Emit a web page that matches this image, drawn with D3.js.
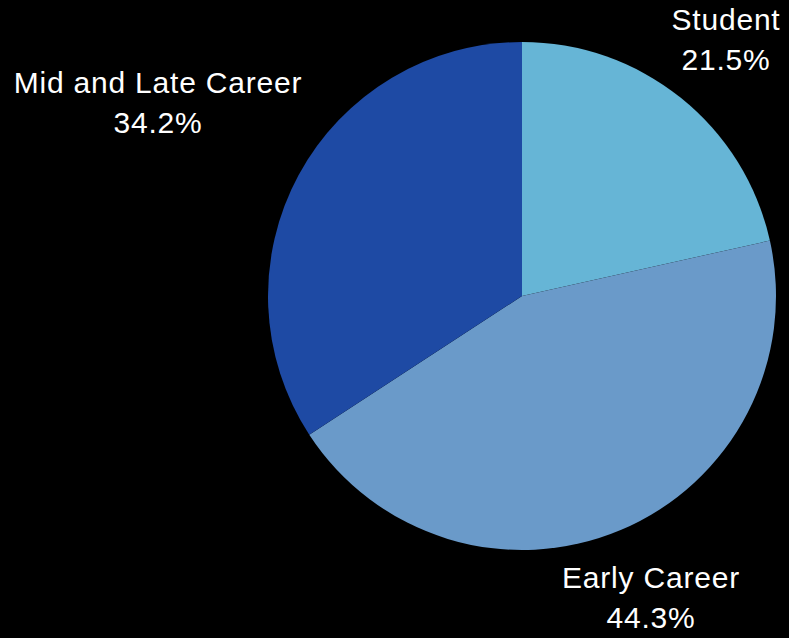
<!DOCTYPE html>
<html>
<head>
<meta charset="utf-8">
<script src="https://cdn.jsdelivr.net/npm/d3@7"></script>
<style>
  html, body { margin: 0; padding: 0; background: #000; }
</style>
</head>
<body>
<div class="piewrap"></div>
<script>
var categories = ["Student", "Early Career", "Mid and Late Career"];
var shares = [21.5, 44.3, 34.2];
var sliceColors = ["#66b5d6", "#6a9ac9", "#1e4aa4"];
// label anchor points (text centre, first baseline)
var labelPos = [[726, 30], [651, 588], [158, 93]];

var width = 789, height = 638;
var cx = 522, cy = 296, radius = 254;

var svg = d3.select(".piewrap").append("svg")
    .attr("width", width)
    .attr("height", height)
    .style("background-color", "#000");

var data = categories.map(function(c, i) {
    return {name: c, value: shares[i]};
});

var pie = d3.pie()
    .sort(null)
    .value(function(d) { return d.value; });

var arc = d3.arc()
    .innerRadius(0)
    .outerRadius(radius);

var color = d3.scaleOrdinal()
    .domain(categories)
    .range(sliceColors);

var g = svg.append("g")
    .attr("transform", "translate(" + cx + "," + cy + ")");

g.selectAll("path")
    .data(pie(data))
    .enter().append("path")
    .attr("d", arc)
    .attr("fill", function(d) { return color(d.data.name); });

var labels = svg.selectAll(".label")
    .data(data)
    .enter().append("text")
    .attr("class", "label")
    .attr("text-anchor", "middle")
    .attr("fill", "#fff")
    .style("font-family", "'Liberation Sans', Arial, Helvetica, sans-serif")
    .style("font-size", "30px")
    .style("letter-spacing", "0.8px");

labels.append("tspan")
    .attr("x", function(d, i) { return labelPos[i][0]; })
    .attr("y", function(d, i) { return labelPos[i][1]; })
    .text(function(d) { return d.name; });

labels.append("tspan")
    .attr("x", function(d, i) { return labelPos[i][0]; })
    .attr("y", function(d, i) { return labelPos[i][1] + 40; })
    .text(function(d) { return d3.format(".1f")(d.value) + "%"; });
</script>
</body>
</html>
